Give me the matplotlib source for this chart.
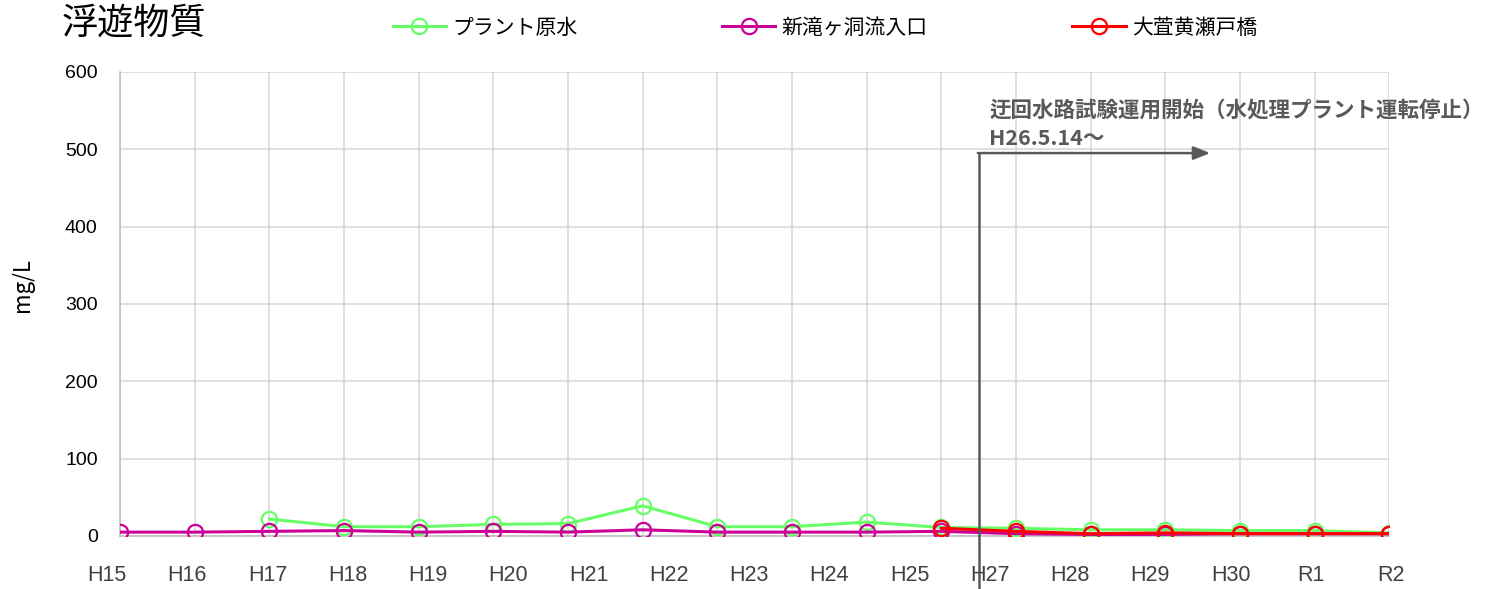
import numpy as np
import matplotlib
matplotlib.use("Agg")
import matplotlib.pyplot as plt
from matplotlib.transforms import blended_transform_factory

plt.rcParams['font.family'] = ['Noto Sans CJK JP', 'DejaVu Sans']

# Survey years (18 sampling points) and the axis labels shown under them
years = ["H15", "H16", "H17", "H18", "H19", "H20", "H21", "H22", "H23",
         "H24", "H25", "H26", "H27", "H28", "H29", "H30", "R1", "R2"]
tick_labels = ["H15", "H16", "H17", "H18", "H19", "H20", "H21", "H22", "H23",
               "H24", "H25", "H27", "H28", "H29", "H30", "R1", "R2"]

# Suspended solids (mg/L); None = not measured
plant_raw = [None, None, 22, 12, 12, 15, 16, 39, 12, 12, 18, 11, 10, 8, 8, 7, 7, 4]
shintaki_inlet = [5, 5, 6, 7, 5, 6, 5, 8, 5, 5, 5, 6, 3, 2, 2, 3, 3, 3]
ogaya_bridge = [None] * 11 + [10, 6, 3, 4, 3, 3, 3]

series_names = ["プラント原水", "新滝ヶ洞流入口", "大萓黄瀬戸橋"]
series_colors = ["#66FF66", "#CC0099", "#FF0000"]

def to_array(vals):
    return np.array([np.nan if v is None else v for v in vals], dtype=float)

W, H = 1490, 589
fig = plt.figure(figsize=(W / 100, H / 100), dpi=100)
ax = fig.add_axes([0.0805, 0.090, 0.852, 0.788])

x = np.arange(len(years))
handles = []
for vals, name, col in zip([plant_raw, shintaki_inlet, ogaya_bridge],
                           series_names, series_colors):
    h, = ax.plot(x, to_array(vals), color=col, lw=2.2, marker='o',
                 markersize=11, markerfacecolor='none', markeredgecolor=col,
                 markeredgewidth=1.6, label=name, zorder=3)
    handles.append(h)

ax.set_xlim(0, len(years) - 1)
ax.set_ylim(0, 600)
ax.set_yticks(np.arange(0, 601, 100))
ax.set_xticks(x)
ax.set_xticklabels([])
ax.tick_params(axis='x', length=0)
ax.tick_params(axis='y', length=0, pad=16, labelsize=14)
for lab in ax.get_yticklabels():
    lab.set_family(['Liberation Sans', 'DejaVu Sans'])
ax.grid(True, color='#D9D9D9', lw=1.2, zorder=0)
for s in ['top', 'right']:
    ax.spines[s].set_visible(False)
ax.spines['left'].set_color('#BFBFBF')
ax.spines['bottom'].set_color('#BFBFBF')
ax.spines['left'].set_linewidth(1.2)
ax.spines['bottom'].set_linewidth(1.2)
ax.set_ylabel("mg/L", fontsize=16)
ax.yaxis.set_label_coords(-0.068, 0.541)

# Year labels on their own evenly spaced category axis
lab_ax = fig.add_axes([107 / W, 0.090, (1391 - 107) / W, 0.788])
lab_ax.set_xlim(0, len(tick_labels) - 1)
lab_ax.set_xticks(np.arange(len(tick_labels)))
lab_ax.set_xticklabels(tick_labels, fontsize=15.5,
                       family=['Liberation Sans', 'DejaVu Sans'],
                       color='#404040')
lab_ax.set_yticks([])
lab_ax.tick_params(axis='x', length=0, pad=21)
lab_ax.patch.set_visible(False)
for s in lab_ax.spines.values():
    s.set_visible(False)

# Start of the bypass channel trial operation
x_start, x_end, y_arrow = 11.5, 14.6, 495
trans = blended_transform_factory(ax.transData, ax.transAxes)
ax.plot([x_start, x_start], [-0.15, (y_arrow / 600)], transform=trans,
        color='#595959', lw=1.8, clip_on=False, zorder=4)
ax.annotate("", xy=(x_end, y_arrow), xytext=(x_start - 0.012, y_arrow),
            arrowprops=dict(arrowstyle='-|>,head_length=1.0,head_width=0.4',
                            color='#595959', lw=1.8, shrinkA=0, shrinkB=0),
            zorder=4, annotation_clip=False)
ax.text(x_start + 0.14, 500, "迂回水路試験運用開始（水処理プラント運転停止）\nH26.5.14～",
        fontsize=15.5, fontweight='bold', color='#595959', ha='left', va='bottom',
        linespacing=1.4, clip_on=False)

# Title and legend
fig.text(0.0416, 0.960, "浮遊物質", fontsize=26, va='center', ha='left')
fig.legend(handles=handles, loc='center', bbox_to_anchor=(0.5536, 0.953),
           ncol=3, frameon=False, fontsize=15, handlelength=2.55,
           columnspacing=6.95, handletextpad=0.3)

fig.savefig("out.png", dpi=100)
